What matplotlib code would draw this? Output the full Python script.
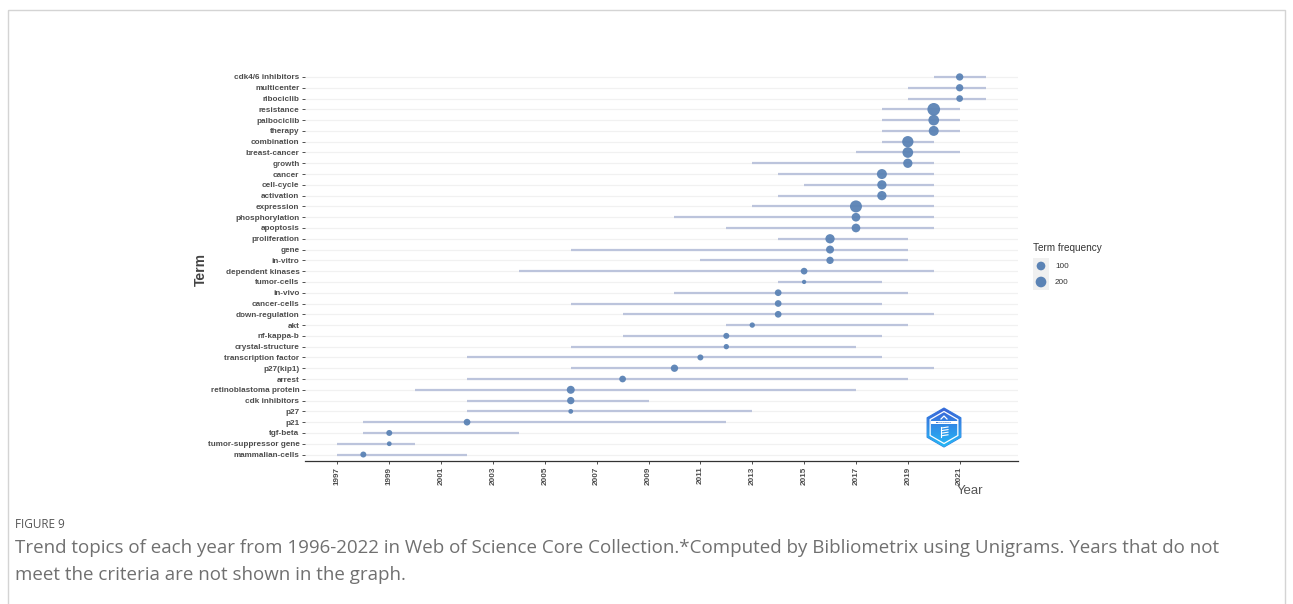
import numpy as np
import matplotlib
matplotlib.use("Agg")
import matplotlib.pyplot as plt
from matplotlib.patches import Polygon, Rectangle
from matplotlib.colors import LinearSegmentedColormap

# Trend topics: first quartile, median and third quartile year of each term, plus frequency
terms = ["cdk4/6 inhibitors", "multicenter", "ribociclib", "resistance", "palbociclib",
         "therapy", "combination", "breast-cancer", "growth", "cancer", "cell-cycle",
         "activation", "expression", "phosphorylation", "apoptosis", "proliferation",
         "gene", "in-vitro", "dependent kinases", "tumor-cells", "in-vivo",
         "cancer-cells", "down-regulation", "akt", "nf-kappa-b", "crystal-structure",
         "transcription factor", "p27(kip1)", "arrest", "retinoblastoma protein",
         "cdk inhibitors", "p27", "p21", "tgf-beta", "tumor-suppressor gene",
         "mammalian-cells"]
year_q1 = [2020, 2019, 2019, 2018, 2018, 2018, 2018, 2017, 2013, 2014, 2015, 2014,
           2013, 2010, 2012, 2014, 2006, 2011, 2004, 2014, 2010, 2006, 2008, 2012,
           2008, 2006, 2002, 2006, 2002, 2000, 2002, 2002, 1998, 1998, 1997, 1997]
year_med = [2021, 2021, 2021, 2020, 2020, 2020, 2019, 2019, 2019, 2018, 2018, 2018,
            2017, 2017, 2017, 2016, 2016, 2016, 2015, 2015, 2014, 2014, 2014, 2013,
            2012, 2012, 2011, 2010, 2008, 2006, 2006, 2006, 2002, 1999, 1999, 1998]
year_q3 = [2022, 2022, 2022, 2021, 2021, 2021, 2020, 2021, 2020, 2020, 2020, 2020,
           2020, 2020, 2020, 2019, 2019, 2019, 2020, 2018, 2019, 2018, 2020, 2019,
           2018, 2017, 2018, 2020, 2019, 2017, 2009, 2013, 2012, 2004, 2000, 2002]
freq = [53, 53, 38, 337, 200, 161, 237, 200, 126, 161, 126, 126, 285, 100, 100, 126,
        74, 53, 38, 11, 38, 38, 38, 16, 24, 16, 24, 53, 38, 74, 53, 12, 38, 24, 12, 24]
year_ticks = list(range(1997, 2022, 2))
legend_breaks = [100, 200]

W, H, DPI = 1293, 604, 100
fig = plt.figure(figsize=(W / DPI, H / DPI), dpi=DPI)
fig.patch.set_facecolor("white")

FONT = "Liberation Sans"
TXT = "#4d4d4d"
POINT_COL = "#5b83b5"
SEG_COL = "#bcc4dc"

fmin, fmax = min(freq), max(freq)
D_MIN, D_MAX = 4.3, 12.7  # marker diameter range, pixels


def marker_area(f):
    f = np.asarray(f, dtype=float)
    d = D_MIN + (D_MAX - D_MIN) * np.sqrt(np.clip((f - fmin) / (fmax - fmin), 0, 1))
    return (d * 72.0 / DPI) ** 2


n = len(terms)
ypos = np.arange(n)[::-1]

ax = fig.add_axes([305 / W, 1 - 461 / H, (1018 - 305) / W, (461 - 70.5) / H])
ax.set_xlim(1995.75, 2023.25)
ax.set_ylim(-0.6, n - 0.4)

for y in ypos:
    ax.axhline(y, color="#f1f1f1", lw=0.9, zorder=0)
ax.hlines(ypos, year_q1, year_q3, color=SEG_COL, lw=1.6, zorder=2)
ax.scatter(year_med, ypos, s=marker_area(freq), color=POINT_COL, edgecolors="none",
           alpha=0.95, zorder=3)

ax.set_yticks(ypos)
ax.set_yticklabels(terms, fontfamily=FONT, fontsize=5.9, fontweight="bold", color=TXT)
ax.set_xticks(year_ticks)
ax.set_xticklabels([str(t) for t in year_ticks], rotation=90, fontfamily=FONT,
                   fontsize=5.9, fontweight="bold", color=TXT)
ax.tick_params(axis="both", length=2.5, width=0.6, color="#333333", pad=1.5)
for side in ("top", "right", "left"):
    ax.spines[side].set_visible(False)
ax.spines["bottom"].set_color("#333333")
ax.spines["bottom"].set_linewidth(0.9)
ax.set_facecolor("white")

# overlay in pixel coordinates for annotations, legend, frame and logo
ov = fig.add_axes([0, 0, 1, 1], zorder=5)
ov.set_xlim(0, W)
ov.set_ylim(H, 0)
ov.axis("off")
ov.patch.set_alpha(0)

ov.add_patch(Rectangle((8, 10), 1277, 700, fill=False, edgecolor="#d4d4d4", lw=1.0))

ov.text(201, 269, "Term", rotation=90, ha="center", va="center", fontfamily=FONT,
        fontsize=10, fontweight="bold", color="#444444")
ov.text(970, 491, "Year", ha="center", va="center", fontfamily=FONT, fontsize=9.5,
        color="#555555")

# size legend
ov.text(1033, 248, "Term frequency", ha="left", va="center", fontfamily=FONT,
        fontsize=7.2, color="#333333")
for k, b in enumerate(legend_breaks):
    yk = 258 + 16 * k
    ov.add_patch(Rectangle((1033, yk), 16, 16, facecolor="#f0f0f0", edgecolor="none"))
    ov.scatter([1041], [yk + 8], s=marker_area([b]), color=POINT_COL, edgecolors="none")
    ov.text(1055, yk + 8, str(b), ha="left", va="center", fontfamily=FONT,
            fontsize=5.9, color="#333333")

# Bibliometrix hexagon badge
cx, cy, R = 944, 427.5, 19.5
ang = np.deg2rad(90 + 60 * np.arange(6))
hex_outer = np.column_stack([cx + R * np.cos(ang), cy - R * np.sin(ang)])
hex_poly = Polygon(hex_outer, closed=True, facecolor="none", edgecolor="#2f7fe0", lw=0.8)
ov.add_patch(hex_poly)
grad = np.linspace(0, 1, 64)[:, None]
cmap = LinearSegmentedColormap.from_list("badge", ["#3b62d6", "#2f8fe8", "#25b8f5"])
img = ov.imshow(grad, cmap=cmap, extent=(cx - R, cx + R, cy + R, cy - R),
                aspect="auto", zorder=6)
img.set_clip_path(hex_poly)
r2 = R * 0.82
hex_inner = np.column_stack([cx + r2 * np.cos(ang), cy - r2 * np.sin(ang)])
ov.add_patch(Polygon(hex_inner, closed=True, facecolor="none", edgecolor="white",
                     lw=0.9, zorder=7))
ov.add_patch(Rectangle((cx - 13.5, cy - 6.5), 27, 3.2, facecolor="white",
                       edgecolor="none", zorder=7))
ov.text(cx, cy - 4.9, "BIBLIOMETRIX", ha="center", va="center", fontsize=1.6,
        color="#2f6fd0", fontfamily=FONT, fontweight="bold", zorder=8)
ov.plot([cx - 3, cx, cx + 3], [cy - 8.5, cy - 11.5, cy - 8.5], color="white", lw=0.9,
        zorder=7)
for j in range(4):
    yy = cy + 0.5 + 2.6 * j
    ov.plot([cx - 2.5, cx + 4], [yy, yy - 1], color="white", lw=0.8, zorder=7)
ov.plot([cx - 3, cx - 3], [cy - 1, cy + 9], color="white", lw=0.8, zorder=7)

# caption
ov.text(15, 524, "FIGURE 9", ha="left", va="center", fontfamily="Open Sans",
        fontsize=8.5, color="#555555")
ov.text(15, 548,
        "Trend topics of each year from 1996-2022 in Web of Science Core Collection.*Computed by "
        "Bibliometrix using Unigrams. Years that do not",
        ha="left", va="center", fontfamily="Open Sans", fontsize=13.5, color="#707070")
ov.text(15, 575, "meet the criteria are not shown in the graph.", ha="left", va="center",
        fontfamily="Open Sans", fontsize=13.5, color="#707070")

fig.savefig("out.png", dpi=DPI, facecolor="white")
